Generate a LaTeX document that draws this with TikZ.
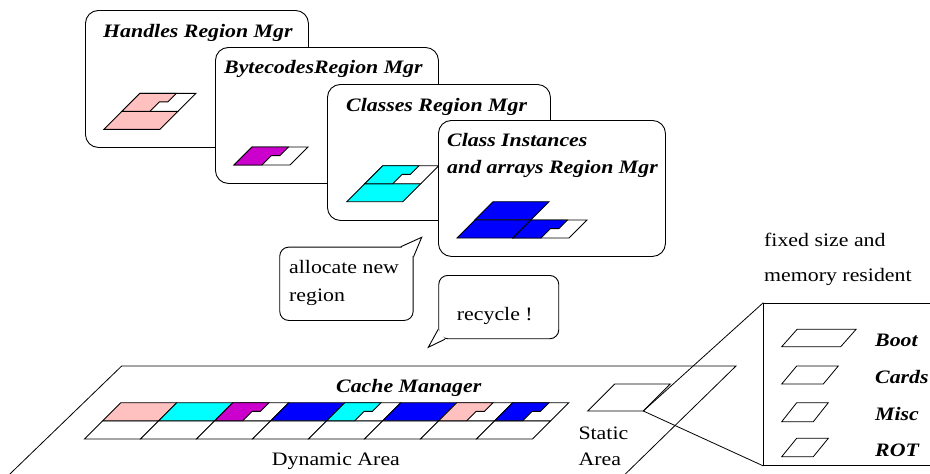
\documentclass[tikz,border=0pt]{standalone}
\usepackage{fontspec}
\setmainfont{Liberation Serif}[FakeStretch=1.15]
\usetikzlibrary{calc}

\definecolor{rpink}{RGB}{255,192,192}
\definecolor{rcyan}{RGB}{0,255,255}
\definecolor{rmagenta}{RGB}{204,0,204}
\definecolor{rblue}{RGB}{0,0,255}

\tikzset{
  regionbox/.style={draw=black, fill=white, rounded corners=13pt, line width=0.9pt,
    inner sep=0pt, anchor=north west},
  bubble/.style={draw=black, fill=white, rounded corners=9pt, line width=0.9pt,
    inner sep=0pt, anchor=north west},
  title/.style={inner sep=0pt, anchor=base west, font=\fontsize{19}{23}\selectfont\bfseries\itshape},
  plain/.style={inner sep=0pt, anchor=base west, font=\fontsize{19}{23}\selectfont},
  blkline/.style={draw=black, line width=0.9pt, line join=miter},
  thinline/.style={draw=black, line width=0.8pt},
}

% a memory block: slanted cell, bottom-left corner at (#1,#2)
\newcommand\fullblk[3]{%
  \begin{scope}[shift={(#1,#2)},x={(56pt,0pt)},y={(18pt,18pt)}]
    \filldraw[blkline, fill=#3] (0,0)--(1,0)--(1,1)--(0,1)--cycle;
  \end{scope}}
% a partly used block: stepped fill, free part left white
\newcommand\notchblk[3]{%
  \begin{scope}[shift={(#1,#2)},x={(56pt,0pt)},y={(18pt,18pt)}]
    \filldraw[blkline, fill=white] (0,0)--(1,0)--(1,1)--(0,1)--cycle;
    \filldraw[blkline, fill=#3] (0,0)--(0.5,0)--(0.5,0.52)--(0.65,0.52)--(0.65,1)--(0,1)--cycle;
  \end{scope}}
% a plain slanted outline
\newcommand\slab[5]{%
  \begin{scope}[shift={(#1,#2)},x={(#3pt,0pt)},y={(#5pt,#4pt)}]
    \draw[thinline] (0,0)--(1,0)--(1,1)--(0,1)--cycle;
  \end{scope}}

\begin{document}
\begin{tikzpicture}[x=1pt,y=-1pt]
\useasboundingbox (0,0) rectangle (930,474);

% ---- region managers ----
\node[regionbox, minimum width=223pt, minimum height=137pt] (hbox) at (85,10) {};
\node[title] (htitle) at (103,37) {Handles Region Mgr};
\fullblk{104}{129.3}{rpink}
\notchblk{122}{111.3}{rpink}

\node[regionbox, minimum width=223pt, minimum height=136pt] (bbox) at (215,47) {};
\node[title] (btitle) at (224,73) {BytecodesRegion Mgr};
\notchblk{234}{165}{rmagenta}

\node[regionbox, minimum width=223pt, minimum height=136pt] (cbox) at (327,84) {};
\node[title] (ctitle) at (346,111) {Classes Region Mgr};
\fullblk{346.7}{201.7}{rcyan}
\notchblk{364.7}{183.7}{rcyan}

\node[regionbox, minimum width=227pt, minimum height=136pt] (ibox) at (438,120) {};
\node[title] (ititleA) at (447,146.5) {Class Instances};
\node[title] (ititleB) at (447,173) {and arrays Region Mgr};
\fullblk{475}{219.7}{rblue}
\fullblk{457}{238}{rblue}
\notchblk{513}{238}{rblue}

% ---- speech bubbles ----
\node[bubble, minimum width=133.4pt, minimum height=73.3pt] (alloc) at (279.3,246.7) {};
\coordinate (alloc-tip) at (421.7,237.3);
\fill[white] ($(alloc.north east)+(-12.7,0)$) -- (alloc-tip) -- ($(alloc.north east)+(0,10)$) -- cycle;
\draw[line width=0.9pt, line join=miter] ($(alloc.north east)+(-12.7,0)$) -- (alloc-tip) -- ($(alloc.north east)+(0,10)$);
\node[plain] (allocA) at (289,273.3) {allocate new};
\node[plain] (allocB) at (289,301.7) {region};

\node[bubble, minimum width=120pt, minimum height=63.3pt] (recyc) at (438.3,275) {};
\coordinate (recyc-tip) at (428.3,347.3);
\fill[white] ($(recyc.south west)+(0,-10)$) -- (recyc-tip) -- ($(recyc.south west)+(6.7,0)$) -- cycle;
\draw[line width=0.9pt, line join=miter] ($(recyc.south west)+(0,-10)$) -- (recyc-tip) -- ($(recyc.south west)+(6.7,0)$);
\node[plain] (recycT) at (456.7,320) {recycle !};

% ---- cache manager plane ----
\draw[thinline] (3.7,480) -- (121.7,366) -- (736,366) -- (619.2,480);
\node[title] (cmtitle) at (336,392.3) {Cache Manager};

% dynamic area: lower row of free cells, upper row of allocated cells
\foreach \k in {0,...,7} { \fullblk{84.4+56*\k}{439}{white} }
\fullblk{102.7}{420.7}{rpink}
\fullblk{158.7}{420.7}{rcyan}
\notchblk{214.7}{420.7}{rmagenta}
\fullblk{270.7}{420.7}{rblue}
\notchblk{326.7}{420.7}{rcyan}
\fullblk{382.7}{420.7}{rblue}
\notchblk{438.7}{420.7}{rpink}
\notchblk{494.7}{420.7}{rblue}
\node[plain] (dyn) at (271.7,465) {Dynamic Area};

% static area
\slab{587.7}{411}{55.6}{27}{27}
\coordinate (stat-br) at (643.3,411);
\node[plain] (statA) at (578.3,439) {Static};
\node[plain] (statB) at (578.3,465) {Area};

% ---- fixed, memory resident part ----
\node[plain] (fixA) at (764,246) {fixed size and};
\node[plain] (fixB) at (764,281.7) {memory resident};
\node[draw=black, line width=0.9pt, anchor=north west, inner sep=0pt,
      minimum width=200pt, minimum height=162.3pt] (fixbox) at (763.3,302.7) {};
\draw[thinline] (fixbox.north west) -- (stat-br) -- (fixbox.south west);

\slab{781.7}{346.7}{59}{17.5}{15.5}
\slab{781.7}{384}{41.6}{18}{15}
\slab{781.7}{421.7}{31.6}{19}{15}
\slab{781.7}{456.7}{31.6}{18.4}{15}
\node[title] (boot) at (875,346.7) {Boot};
\node[title] (cards) at (875,383.3) {Cards};
\node[title] (misc) at (875,420) {Misc};
\node[title] (rot) at (875,456) {ROT};
\end{tikzpicture}
\end{document}
